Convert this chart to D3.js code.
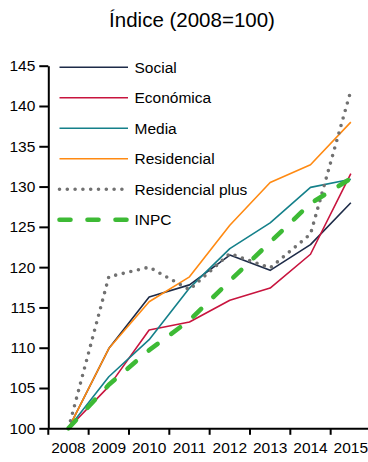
<!DOCTYPE html>
<html>
<head>
<meta charset="utf-8">
<script src="https://cdn.jsdelivr.net/npm/d3@7"></script>
<style>
  html, body { margin: 0; padding: 0; background: #fff; }
  svg { display: block; font-family: "Liberation Sans", Arial, sans-serif; }
</style>
</head>
<body>
<svg id="chart" width="368" height="462"></svg>
<script>
const years = [2008, 2009, 2010, 2011, 2012, 2013, 2014, 2015];
const social = [100, 109.9, 116.3, 117.8, 121.5, 119.6, 122.8, 128.0];
const economica = [100, 105.2, 112.2, 113.2, 115.9, 117.4, 121.6, 131.6];
const media = [100, 106.4, 111.0, 117.4, 122.3, 125.5, 129.9, 130.9];
const residencial = [100, 109.9, 115.7, 118.8, 125.2, 130.5, 132.7, 138.0];
const residencialPlus = [100, 118.8, 120.0, 117.2, 121.7, 119.9, 124.1, 141.9];
const inpc = [100, 105.4, 109.7, 113.4, 118.3, 123.1, 127.9, 131.0];
const seriesNames = ["Social", "Económica", "Media", "Residencial", "Residencial plus", "INPC"];
const yTicks = [100, 105, 110, 115, 120, 125, 130, 135, 140, 145];
const title = "Índice (2008=100)";

(function () {
const seriesValues = [social, economica, media, residencial, residencialPlus, inpc];
const styles = [
  { color: "#1d2b48", width: 1.6, dash: null, cap: "butt" },
  { color: "#c8143e", width: 1.6, dash: null, cap: "butt" },
  { color: "#14808a", width: 1.6, dash: null, cap: "butt" },
  { color: "#ff8a12", width: 1.6, dash: null, cap: "butt" },
  { color: "#717171", width: 3.6, dash: "0 7.8", cap: "round" },
  { color: "#3dba35", width: 4.6, dash: "11 17", cap: "round" }
];

const svg = d3.select("#chart");
const mLeft = 48.3, mRight = 371, mTop = 65.7, mBottom = 428.3;

const x = d3.scaleBand().domain(years).range([mLeft, mRight]).padding(0);
const y = d3.scaleLinear().domain([100, 145]).range([mBottom, mTop]);

// title
svg.append("text")
  .attr("x", 192).attr("y", 26.5)
  .attr("text-anchor", "middle")
  .attr("font-size", "20.5px")
  .attr("fill", "#000")
  .text(title);

// series lines
const line = d3.line()
  .x((d, i) => x(years[i]) + x.bandwidth() / 2)
  .y(d => y(d));

seriesValues.forEach((vals, k) => {
  const s = styles[k];
  svg.append("path")
    .datum(vals)
    .attr("d", line)
    .attr("fill", "none")
    .attr("stroke", s.color)
    .attr("stroke-width", s.width)
    .attr("stroke-linecap", s.cap)
    .attr("stroke-linejoin", "round")
    .attr("stroke-dasharray", s.dash);
});

// y axis
const yAxis = d3.axisLeft(y).tickValues(yTicks).tickSize(9).tickSizeOuter(0).tickPadding(4);
const gy = svg.append("g").attr("transform", `translate(${mLeft},0)`).call(yAxis);
gy.select(".domain").attr("stroke", "#000").attr("stroke-width", 2);
gy.selectAll(".tick line").attr("stroke", "#000").attr("stroke-width", 2);
gy.selectAll(".tick text").attr("font-size", "15.5px").attr("fill", "#000")
  .attr("font-family", "'Liberation Sans', Arial, sans-serif");

// x axis (labels centered in bands, ticks at band boundaries)
const xAxis = d3.axisBottom(x).tickSize(0).tickSizeOuter(0).tickPadding(14);
const gx = svg.append("g").attr("transform", `translate(0,${mBottom})`).call(xAxis);
gx.select(".domain").attr("stroke", "#000").attr("stroke-width", 2);
gx.selectAll(".tick text").attr("font-size", "15.5px").attr("fill", "#000")
  .attr("font-family", "'Liberation Sans', Arial, sans-serif");
gx.selectAll(".boundary")
  .data(years)
  .enter().append("line")
  .attr("class", "boundary")
  .attr("x1", d => x(d)).attr("x2", d => x(d))
  .attr("y1", 0).attr("y2", 6.5)
  .attr("stroke", "#000").attr("stroke-width", 2);

// legend
const legendX1 = 59.5, legendX2 = 128, legendTextX = 134.5, legendY0 = 67.3, legendStep = 30.5;
const lg = svg.append("g");
seriesNames.forEach((name, k) => {
  const s = styles[k];
  const yy = legendY0 + k * legendStep;
  lg.append("line")
    .attr("x1", legendX1).attr("x2", legendX2)
    .attr("y1", yy).attr("y2", yy)
    .attr("stroke", s.color)
    .attr("stroke-width", s.width)
    .attr("stroke-linecap", s.cap)
    .attr("stroke-dasharray", s.dash);
  lg.append("text")
    .attr("x", legendTextX).attr("y", yy + 5.5)
    .attr("font-size", "15.5px")
    .attr("fill", "#000")
    .text(name);
});
})();
</script>
</body>
</html>
